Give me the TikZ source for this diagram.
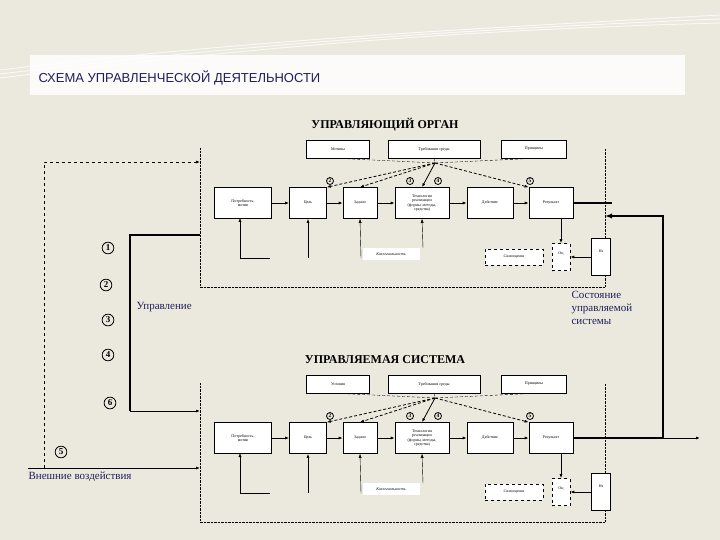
\documentclass[tikz,border=0pt]{standalone}
\usepackage{fontspec}
\setmainfont{Liberation Serif}
\newfontfamily\sans{Liberation Sans}
\usetikzlibrary{arrows.meta,positioning}
\definecolor{bg}{HTML}{EBE8DE}
\definecolor{navy}{HTML}{1F1F5A}
\begin{document}
\begin{tikzpicture}[x=1pt,y=-1pt,
  box/.style={draw,fill=white,line width=0.6pt,font=\fontsize{4}{4.5}\selectfont,align=center,inner sep=1pt},
  dbox/.style={box,dashed},
  circ/.style={circle,draw,thick,font=\bfseries\fontsize{9}{9}\selectfont,inner sep=1.5pt},
  ar/.style={-{Latex[length=4pt]}},
  thk/.style={line width=2pt},
  frame/.style={densely dotted,thin},
  lbl/.style={text=navy,font=\fontsize{11}{12}\selectfont,align=left}]
\fill[bg] (0,0) rectangle (720,540);
\useasboundingbox (0,0) rectangle (720,540);
% decorative swooshes
\foreach \o in {0,4,8} \draw[white,line width=1pt,opacity=.7] (0,70+\o) .. controls (250,40+\o) and (450,30) .. (720,15+\o);
\fill[white,opacity=.85] (30,55) rectangle (685,95);
\node[anchor=west,font=\sans\fontsize{13}{14}\selectfont,text=navy] (ttl) at (35,78) {СХЕМА УПРАВЛЕНЧЕСКОЙ ДЕЯТЕЛЬНОСТИ};

\foreach \p/\dy/\t/\mm in {a/0/УПРАВЛЯЮЩИЙ ОРГАН/Мотивы,b/235/УПРАВЛЯЕМАЯ СИСТЕМА/Условия} {
  \begin{scope}[yshift=-\dy]
  \node[font=\bfseries\fontsize{12}{12}\selectfont,text=black] (\p title) at (385,125) {\t};
  \draw[frame] (200,148) -- (200,287) -- (605,287) -- (605,148);
  \node[box,minimum width=63,minimum height=18] (\p m) at (338,149) {\mm};
  \node[box,minimum width=92,minimum height=18] (\p t) at (434,149) {Требования среды};
  \node[box,minimum width=65,minimum height=18] (\p pr) at (534,149) {Принципы};
  \coordinate (\p j) at (435,163);
  \node[box,minimum width=57,minimum height=31] (\p 1) at (243,203) {Потребность,\\мотив};
  \node[box,minimum width=37,minimum height=31] (\p 2) at (308,203) {Цель};
  \node[box,minimum width=34,minimum height=31] (\p 3) at (360,203) {Задачи};
  \node[box,minimum width=54,minimum height=31] (\p 4) at (422,203) {Технология\\реализации\\(формы, методы,\\средства)};
  \node[box,minimum width=46,minimum height=31] (\p 5) at (490,203) {Действие};
  \node[box,minimum width=44,minimum height=31] (\p 6) at (551,203) {Результат};
  \foreach \i/\k in {1/2,2/3,3/4,4/5,5/6} \draw[ar,thick] (\p\i) -- (\p\k);
  \draw[densely dashed] (\p j) -- (\p m.south); \draw[densely dashed] (\p j) -- (\p pr.south);
  \draw[densely dashed] (\p t.south) -- (\p j);
  \draw[ar,densely dashed,thick] (\p j) -- (\p 2.north east);
  \draw[ar,densely dashed,thick] (\p j) -- (\p 3.north);
  \draw[ar,thick] (\p j) -- (\p 4.north);
  \draw[ar,densely dashed,thick] (\p j) -- (\p 6.north west);
  \node[circ,scale=.6] (\p c2) at (330,181) {2};
  \node[circ,scale=.6] (\p c3) at (410,181) {3};
  \node[circ,scale=.6] (\p c4) at (438,181) {4};
  \node[circ,scale=.6] (\p c5) at (530,181) {5};
  \node[box,draw=none,minimum width=57,minimum height=12,font=\itshape\fontsize{4}{4}\selectfont] (\p k) at (391,254) {Коллегиальность};
  \node[dbox,minimum width=58,minimum height=16,font=\itshape\fontsize{4}{4}\selectfont] (\p s) at (514,257) {Самооценка};
  \node[dbox,minimum width=18,minimum height=27,text depth=8pt] (\p o) at (561,257) {Оц};
  \node[box,minimum width=19,minimum height=37,text depth=12pt] (\p n) at (601,257) {Нз};
  \coordinate (\p r) at (240,258);
  \draw[ar] (\p r) -- (240,218) ; \draw (\p r) -- (270,258);
  \draw[ar,thick] (308,258) -- (\p 2.south);
  \draw[ar] (361,258) -- (\p 3.south);
  \draw[ar] (423,248) -- (\p 4.south);
  \draw[ar,thick] (561,218.5) -- (\p o.north);
  \draw[ar,thick] (\p n) -- (\p o);
  \end{scope}}
\draw[thk] (a6.east) -- (612,203);
\draw[thk] (b6.east) -- (663,438);
\coordinate (fb) at (663,216);
\draw[thk,-{Latex[length=7pt]}] (663,438) -- (fb) -- (605,216);
\draw[ar,thick] (663,438) -- (700,438);
% left side
\coordinate (d0) at (44,468);
\draw[dashed,thick,ar] (d0) -- (44,162) -- (200,162);
\draw[thk] (200,235) -- (130,235) -- (130,411);
\draw[thick,ar] (130,411) -- (200,411);
\draw[thick,ar] (28,468) -- (200,468);
\node[circ] (n1) at (108,248) {1};
\node[circ] (n2) at (106,285) {2};
\node[circ] (n3) at (108,320) {3};
\node[circ] (n4) at (108,355) {4};
\node[circ] (n6) at (110,403) {6};
\node[circ] (n5) at (61,452) {5};
\node[lbl,anchor=west] (upr) at (133,307) {Управление};
\node[lbl,anchor=west] (ext) at (25,477) {Внешние воздействия};
\node[lbl,anchor=north west,font=\fontsize{11}{13}\selectfont] (sost) at (568,288) {Состояние\\управляемой\\системы};
\end{tikzpicture}
\end{document}
